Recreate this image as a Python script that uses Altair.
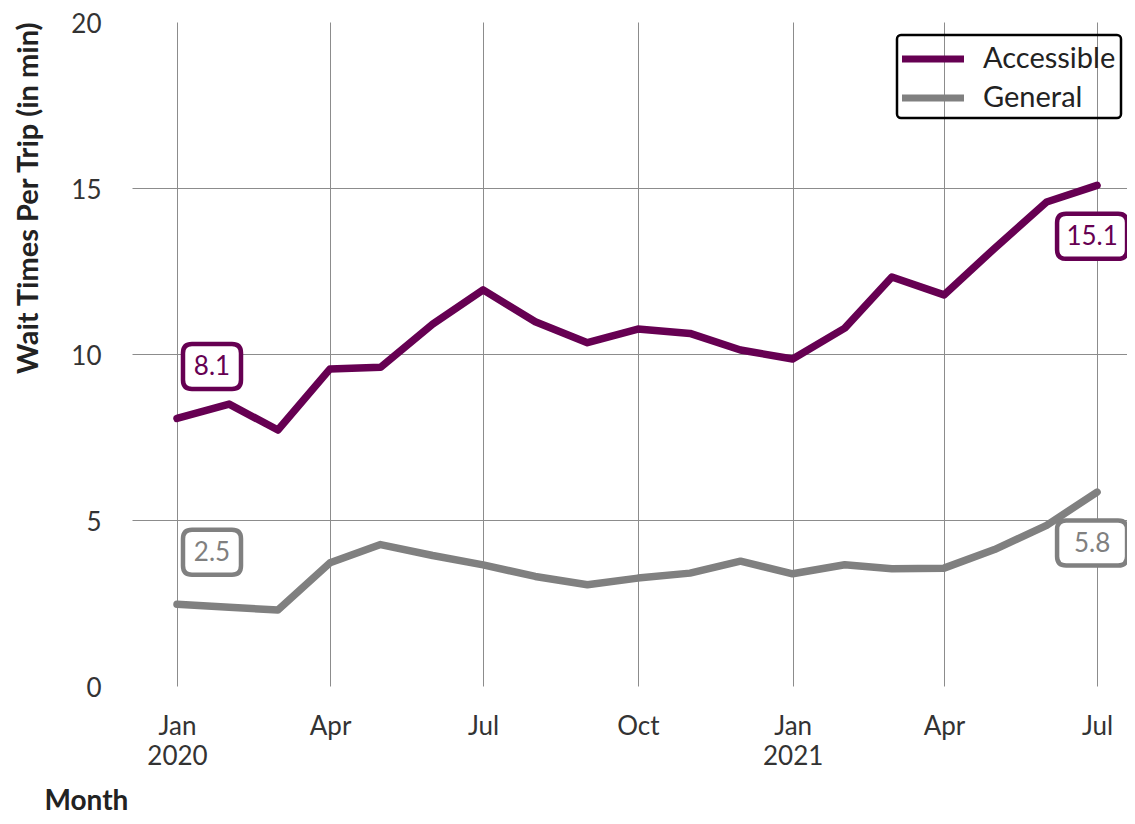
import altair as alt
import pandas as pd

# ---- data ----
months = ["2020-01", "2020-02", "2020-03", "2020-04", "2020-05", "2020-06",
          "2020-07", "2020-08", "2020-09", "2020-10", "2020-11", "2020-12",
          "2021-01", "2021-02", "2021-03", "2021-04", "2021-05", "2021-06",
          "2021-07"]
accessible = [8.06, 8.49, 7.71, 9.55, 9.60, 10.90, 11.93, 10.97, 10.34, 10.75,
              10.62, 10.12, 9.85, 10.78, 12.32, 11.78, 13.18, 14.58, 15.08]
general = [2.46, 2.37, 2.29, 3.71, 4.26, 3.93, 3.65, 3.30, 3.05, 3.25,
           3.40, 3.76, 3.38, 3.65, 3.53, 3.55, 4.11, 4.84, 5.84]
series_names = ["Accessible", "General"]
series_colors = ["#660052", "#808080"]

rows = []
for name, vals in zip(series_names, [accessible, general]):
    for m, v in zip(months, vals):
        rows.append({"date": m + "-01T00:00:00", "series": name, "value": v})
df = pd.DataFrame(rows)

first = df[df["date"] == months[0] + "-01T00:00:00"]
last = df[df["date"] == months[-1] + "-01T00:00:00"]


def box_path(hw, hh, r):
    return (f"M{-hw + r},{-hh} L{hw - r},{-hh} Q{hw},{-hh} {hw},{-hh + r} "
            f"L{hw},{hh - r} Q{hw},{hh} {hw - r},{hh} L{-hw + r},{hh} "
            f"Q{-hw},{hh} {-hw},{hh - r} L{-hw},{-hh + r} Q{-hw},{-hh} {-hw + r},{-hh} Z")


BOX3 = box_path(2.9, 2.25, 0.9)   # size 400 -> unit = 10px
BOX4 = box_path(3.5, 2.25, 0.9)

FONT = "Lato"
color_scale = alt.Scale(domain=series_names, range=series_colors)

x_enc = alt.X(
    "date:T",
    scale=alt.Scale(domain=[alt.DateTime(year=2019, month=12, date=5, hours=6),
                            alt.DateTime(year=2021, month=7, date=18, hours=19)]),
    axis=alt.Axis(
        values=[alt.DateTime(year=2020, month=1, date=1),
                alt.DateTime(year=2020, month=4, date=1),
                alt.DateTime(year=2020, month=7, date=1),
                alt.DateTime(year=2020, month=10, date=1),
                alt.DateTime(year=2021, month=1, date=1),
                alt.DateTime(year=2021, month=4, date=1),
                alt.DateTime(year=2021, month=7, date=1)],
        labelExpr="month(datum.value) == 0 ? [timeFormat(datum.value, '%b'), timeFormat(datum.value, '%Y')] : timeFormat(datum.value, '%b')",
        labelLineHeight=30,
        labelPadding=27,
        labelFlush=False,
        labelOverlap=False,
        title="Month",
        titleFontSize=28,
        titleAnchor="start",
        titleAlign="left",
        titleBaseline="alphabetic",
        titleX=-88,
        titleY=123,
        grid=True,
    ),
)
y_enc = alt.Y(
    "value:Q",
    scale=alt.Scale(domain=[0, 20], nice=False, zero=True),
    axis=alt.Axis(
        values=[0, 5, 10, 15, 20],
        title="Wait Times Per Trip (in min)",
        titleFontSize=29,
        titleAnchor="end",
        titleAlign="right",
        titleAngle=-90,
        titleBaseline="middle",
        titleX=-104,
        titleY=0,
        labelPadding=31,
        labelOffset=2,
        labelFlush=False,
        grid=True,
        gridOpacity=alt.condition("datum.value == 0 || datum.value == 20",
                                  alt.value(0), alt.value(1)),
    ),
)

lines = alt.Chart(df).mark_line(strokeWidth=7.5, strokeCap="round", strokeJoin="round").encode(
    x=x_enc,
    y=y_enc,
    color=alt.Color(
        "series:N",
        scale=color_scale,
        legend=alt.Legend(
            title=None,
            orient="none",
            legendX=765,
            legendY=13,
            symbolType="M-1.226,0 L2.774,0",
            symbolSize=961,
            symbolStrokeWidth=7,
            labelOffset=43,
            labelFontSize=29,
            labelFont=FONT,
            labelColor="#222222",
            padding=5,
            rowPadding=5,
            strokeColor="#000000",
            cornerRadius=4,
        ),
    ),
)


def label_layer(data, dx, dy, shape):
    base = alt.Chart(data).encode(x="date:T", y="value:Q")
    box = base.mark_point(shape=shape, size=400, fill="white", fillOpacity=1,
                          opacity=1, strokeWidth=4.5, xOffset=dx, yOffset=dy).encode(
        stroke=alt.Stroke("series:N", scale=color_scale, legend=None))
    txt = base.mark_text(font=FONT, fontSize=26, xOffset=dx, yOffset=dy + 1,
                         align="center", baseline="middle").encode(
        text=alt.Text("value:Q", format=".1f"),
        fill=alt.Fill("series:N", scale=color_scale, legend=None))
    return box + txt


start_labels = label_layer(first, 35, -52, BOX3)
end_labels = label_layer(last, -5, 51, BOX4)

chart = alt.layer(lines, start_labels, end_labels).properties(
    width=995, height=664,
    autosize=alt.AutoSizeParams(type="none"),
    padding={"left": 124, "top": 14, "right": 0, "bottom": 130},
).configure_view(stroke=None).configure_axis(
    domain=False,
    ticks=False,
    gridColor="#8c8c8c",
    gridWidth=1,
    labelFont=FONT,
    labelFontSize=26,
    labelColor="#333333",
    titleFont=FONT,
    titleFontWeight="bold",
    titleColor="#222222",
).configure_legend(strokeWidth=2.5)

chart.save("out.html", embed_options={"renderer": "svg", "actions": False})
